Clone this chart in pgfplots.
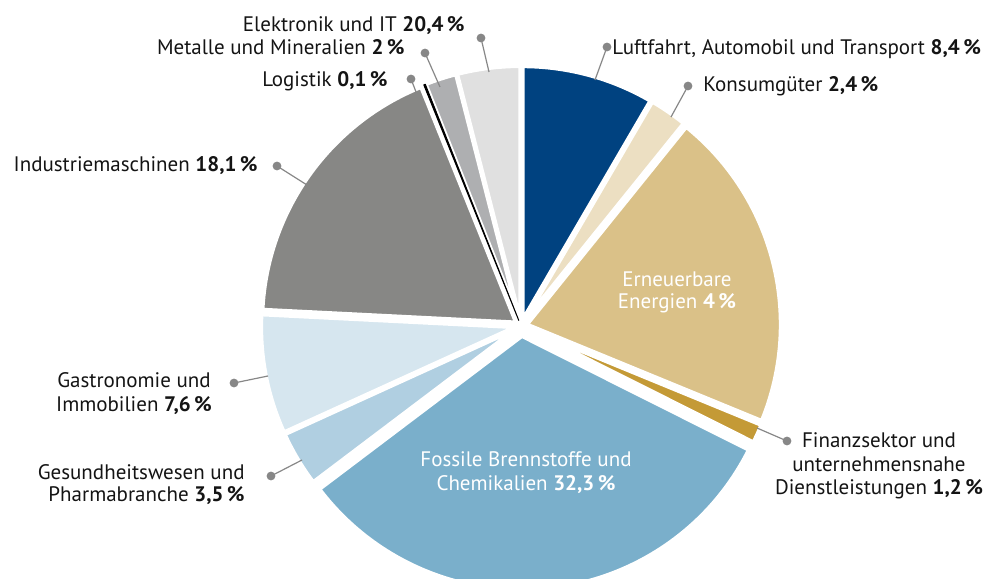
\documentclass[border=0pt]{standalone}
\usepackage{pgfplots}
\pgfplotsset{compat=1.18}
\usepackage{pgfplotstable}
\usepackage{fontspec}
\setmainfont{PT Sans}
\definecolor{c0}{RGB}{0,66,128}
\definecolor{c1}{RGB}{236,223,194}
\definecolor{c2}{RGB}{218,193,136}
\definecolor{c3}{RGB}{196,154,54}
\definecolor{c4}{RGB}{122,175,203}
\definecolor{c5}{RGB}{176,207,225}
\definecolor{c6}{RGB}{214,230,239}
\definecolor{c7}{RGB}{135,135,133}
\definecolor{c9}{RGB}{174,175,177}
\definecolor{c10}{RGB}{224,224,224}
\definecolor{leadc}{RGB}{135,135,135}
\definecolor{txt}{RGB}{20,20,20}
\pgfplotstableread[col sep=comma]{
share,col,bd,bw,ex
8.4,c0,white,2,3
2.4,c1,white,2,3
20.4,c2,white,2,3
1.2,c3,white,2,3
32.3,c4,white,2,5
3.5,c5,white,2,3
7.6,c6,white,2,3
18.1,c7,white,2,3
0.1,black,black,0.5,3
2,c9,white,2,3
4,c10,white,2,3
}\piedata
\begin{document}
\begin{tikzpicture}[
  lab/.style={inner sep=0pt, text=txt, font=\fontsize{10.5}{12}\selectfont},
  wlab/.style={inner sep=0pt, text=white, font=\fontsize{10.5}{12}\selectfont},
  lead/.style={draw=leadc, line width=0.6pt},
  dot/.style={fill=leadc}]
\useasboundingbox (0,0) rectangle (499pt,289.5pt);
\clip (0,0) rectangle (499pt,289.5pt);
\begin{axis}[at={(0,0)}, anchor=south west, scale only axis,
  width=499pt, height=289.5pt, xmin=0, xmax=998, ymin=0, ymax=579,
  hide axis, clip=false]
\gdef\cum{0}
\pgfplotsforeachungrouped \i in {0,...,10}{%
  \pgfplotstablegetelem{\i}{share}\of\piedata
  \pgfmathsetmacro\v{\pgfplotsretval}%
  \expandafter\xdef\csname pa\i\endcsname{\cum}%
  \pgfmathsetmacro\newcum{\cum+\v}%
  \xdef\cum{\newcum}%
  \expandafter\xdef\csname pb\i\endcsname{\cum}%
}
\pgfplotsforeachungrouped \i in {0,1,2,3,4,5,6,7,9,10,8}{%
  \pgfplotstablegetelem{\i}{col}\of\piedata \edef\c{\pgfplotsretval}%
  \pgfplotstablegetelem{\i}{bd}\of\piedata \edef\bd{\pgfplotsretval}%
  \pgfplotstablegetelem{\i}{bw}\of\piedata \edef\bw{\pgfplotsretval}%
  \pgfplotstablegetelem{\i}{ex}\of\piedata \edef\ex{\pgfplotsretval}%
  \pgfmathsetmacro\aone{90-3.6*\csname pa\i\endcsname}%
  \pgfmathsetmacro\atwo{90-3.6*\csname pb\i\endcsname}%
  \pgfmathsetmacro\amid{(\aone+\atwo)/2}%
  \edef\temp{\noexpand\filldraw[fill=\c, draw=\bd, line width=\bw pt, line join=round]
    ([shift={(\amid:\ex pt)}]axis cs:521,253) -- ++(\aone:127pt)
    arc[start angle=\aone, end angle=\atwo, radius=127pt] -- cycle;}%
  \temp
}
% leader lines and dots
\draw[lead] (axis cs:481,541) -- (axis cs:489,507);
\fill[dot] (axis cs:481,541) circle[radius=2.2pt];
\draw[lead] (axis cs:425,526) -- (axis cs:440,492);
\fill[dot] (axis cs:425,526) circle[radius=2.2pt];
\draw[lead] (axis cs:411,500) -- (axis cs:418,482);
\fill[dot] (axis cs:411,500) circle[radius=2.2pt];
\draw[lead] (axis cs:607,532) -- (axis cs:595,499);
\fill[dot] (axis cs:607,532) circle[radius=2.2pt];
\draw[lead] (axis cs:688,493) -- (axis cs:671,462);
\fill[dot] (axis cs:688,493) circle[radius=2.2pt];
\draw[lead] (axis cs:787,138) -- (axis cs:757,151);
\fill[dot] (axis cs:787,138) circle[radius=2.2pt];
\draw[lead] (axis cs:271,103) -- (axis cs:302,119);
\fill[dot] (axis cs:271,103) circle[radius=2.2pt];
\draw[lead] (axis cs:234,196) -- (axis cs:268,203);
\fill[dot] (axis cs:234,196) circle[radius=2.2pt];
\draw[lead] (axis cs:277,413) -- (axis cs:307,394);
\fill[dot] (axis cs:277,413) circle[radius=2.2pt];
% labels
\node[lab, anchor=base east] at (axis cs:465,547) {Elektronik und IT \textbf{20,4\,\%}};
\node[lab, anchor=base east] at (axis cs:405,524) {Metalle und Mineralien \textbf{2\,\%}};
\node[lab, anchor=base east] at (axis cs:388,492) {Logistik \textbf{0,1\,\%}};
\node[lab, anchor=base west] at (axis cs:612,524) {Luftfahrt, Automobil und Transport \textbf{8,4\,\%}};
\node[lab, anchor=base west] at (axis cs:703,487) {Konsumgüter \textbf{2,4\,\%}};
\node[lab, anchor=base east] at (axis cs:258,407) {Industriemaschinen \textbf{18,1\,\%}};
\node[wlab, anchor=base] at (axis cs:677,292) {Erneuerbare};
\node[wlab, anchor=base] at (axis cs:677,270) {Energien \textbf{4\,\%}};
\node[lab, anchor=base] at (axis cs:879,131) {Finanzsektor und};
\node[lab, anchor=base] at (axis cs:879,107) {unternehmensnahe};
\node[lab, anchor=base] at (axis cs:879,84) {Dienstleistungen \textbf{1,2\,\%}};
\node[wlab, anchor=base] at (axis cs:526,112) {Fossile Brennstoffe und};
\node[wlab, anchor=base] at (axis cs:526,88) {Chemikalien \textbf{32,3\,\%}};
\node[lab, anchor=base] at (axis cs:134,191) {Gastronomie und};
\node[lab, anchor=base] at (axis cs:134,167) {Immobilien \textbf{7,6\,\%}};
\node[lab, anchor=base east] at (axis cs:245,99) {Gesundheitswesen und};
\node[lab, anchor=base east] at (axis cs:245,77) {Pharmabranche \textbf{3,5\,\%}};
\end{axis}
\end{tikzpicture}
\end{document}
